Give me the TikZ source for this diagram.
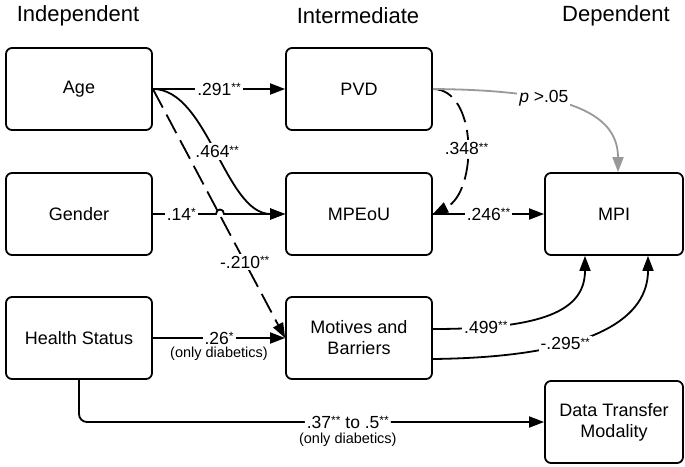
\documentclass[tikz,border=0pt]{standalone}
\usepackage{fontspec}
\setmainfont{Liberation Sans}
\usetikzlibrary{arrows.meta}
% significance stars, set small and raised to the top of the digits
\newcommand\sigstars[1]{\raisebox{3.4pt}{\fontsize{12}{12}\selectfont #1}}
\begin{document}
\begin{tikzpicture}[x=1pt,y=-1pt,
  box/.style={draw, line width=1.8pt, rounded corners=6pt, minimum width=146pt,
    minimum height=82pt, align=center, inner sep=0pt,
    font=\fontsize{18}{21}\selectfont},
  header/.style={font=\fontsize{22}{26}\selectfont, inner sep=0pt},
  conn/.style={line width=1.8pt, -{Triangle[length=15pt,width=11pt]}},
  dashconn/.style={conn, dash pattern=on 21pt off 8pt},
  grayconn/.style={conn, draw=black!40, -{Triangle[length=15pt,width=11pt,fill=black!40]}},
  lbl/.style={fill=white, inner sep=2pt, font=\fontsize{17.5}{19}\selectfont},
  note/.style={inner sep=0pt, font=\fontsize{14.5}{16}\selectfont}]
\useasboundingbox (0,0) rectangle (685,466);

% column headings
\node[header] (hInd) at (78,16) {Independent};
\node[header] (hInt) at (358,16) {Intermediate};
\node[header] (hDep) at (616,16) {Dependent};

% variables
\node[box] (age) at (79,89) {Age};
\node[box] (gender) at (79,214) {Gender};
\node[box] (health) at (79,338) {Health Status};
\node[box] (pvd) at (359,89) {PVD};
\node[box] (mpeou) at (359,214) {MPEoU};
\node[box] (motives) at (359,338) {Motives and\\Barriers};
\node[box, minimum width=138pt] (mpi) at (614,214) {MPI};
\node[box, minimum width=138pt] (dtm) at (614,422) {Data Transfer\\Modality};

% hop of the Gender path over the dashed Age path
\coordinate (hopL) at (216,214);
\coordinate (hopR) at (224,214);

% paths from the independent variables
\draw[conn] (age.east) -- node[lbl] {.291\sigstars{**}} (pvd.west);
\draw[conn] (age.east) .. controls +(55,0) and +(-60,0) ..
  node[lbl, pos=0.5] {.464\sigstars{**}} (mpeou.west);
\draw[dashconn] (age.east) -- node[lbl, pos=0.695] {-.210\sigstars{**}} (motives.west);
\draw[conn] (gender.east) -- node[lbl, pos=0.45] {.14\sigstars{*}} (hopL)
  .. controls +(0,-6) and +(0,-6) .. (hopR) -- (mpeou.west);
\draw[conn] (health.east) -- node[lbl] (l26) {.26\sigstars{*}} (motives.west);
\node[note, below=0pt] (n26) at (l26.south) {(only diabetics)};
\draw[conn, rounded corners=8pt] (health.south) |-
  node[lbl, pos=0.789] (l37) {.37\sigstars{**} to .5\sigstars{**}} (dtm.west);
\node[note, below=2pt] (n37) at (l37.south) {(only diabetics)};

% paths from the intermediate variables
\draw[dashconn] (pvd.east) .. controls +(45,0) and +(45,-22) ..
  node[lbl, pos=0.53] {.348\sigstars{**}} (mpeou.east);
\draw[grayconn] (pvd.east) .. controls (560,90) and (618,110) ..
  node[lbl, pos=0.36] {\textit{p} >.05} ([xshift=4pt]mpi.north);
\draw[conn] (mpeou.east) -- node[lbl] {.246\sigstars{**}} (mpi.west);
\draw[conn] ([yshift=9pt]motives.east) .. controls +(110,0) and +(0,55) ..
  node[lbl, pos=0.18] {.499\sigstars{**}} ([xshift=-29pt]mpi.south);
\draw[conn] ([yshift=-21pt]motives.east) .. controls +(168,-2) and +(0,59) ..
  node[lbl, pos=0.34] {-.295\sigstars{**}} ([xshift=34pt]mpi.south);
\end{tikzpicture}
\end{document}
